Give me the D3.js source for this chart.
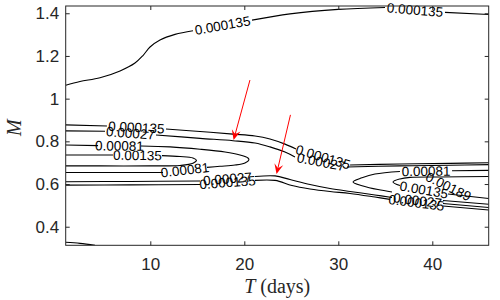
<!DOCTYPE html>
<html lang="en">
<head>
<meta charset="utf-8">
<title>Contour M vs T</title>
<script src="https://d3js.org/d3.v7.min.js"></script>
<style>
    body
    {
        margin: 0;
        background-color: white;
    }
    .tick text
    {
        font-family: "Liberation Sans", Arial, sans-serif;
        font-size: 17px;
        fill: #262626;
    }
    .clabel
    {
        font-family: "Liberation Sans", Arial, sans-serif;
        font-size: 13.5px;
        fill: black;
    }
    .axis_title
    {
        font-family: "Liberation Serif", "Times New Roman", serif;
        font-size: 20px;
        fill: #262626;
    }
</style>
</head>
<body>
<div id="chart_div"></div>
<script>
"use strict";

var t_domain = [1, 46];
var m_domain = [0.313, 1.434];
var t_ticks = [10, 20, 30, 40];
var m_ticks = [0.4, 0.6, 0.8, 1, 1.2, 1.4];
var levels = ["0.000135", "0.00027", "0.00081", "0.00135", "0.00189"];

// contour pieces for each level, points are [T, M]
var level_000135 = [
    [[1.00,1.063],[2.52,1.080],[4.65,1.098],[6.78,1.130],[8.37,1.167],[9.22,1.202],[9.97,1.242],[11.03,1.275],[12.63,1.301],[14.54,1.318]],
    [[20.82,1.368],[24.86,1.397],[29.97,1.418],[34.97,1.427]],
    [[41.35,1.404],[46.00,1.394]],
    [[1.00,0.327],[2.52,0.322],[4.12,0.313]],
    [[1.00,0.877],[5.39,0.872]],
    [[11.67,0.858],[15.29,0.846],[18.80,0.834],[21.14,0.825],[22.73,0.811],[24.33,0.787],[25.50,0.764]],
    [[31.25,0.689],[36.56,0.694],[41.89,0.697],[46.00,0.700]],
    [[1.00,0.595],[7.84,0.596],[15.29,0.598]],
    [[21.14,0.617],[23.27,0.617],[25.07,0.593],[26.99,0.577],[29.12,0.565],[31.25,0.556],[33.90,0.539],[35.49,0.528]],
    [[41.14,0.497],[46.00,0.478]]
];
var level_00027 = [
    [[1.00,0.849],[5.18,0.847]],
    [[10.61,0.830],[15.29,0.814],[18.80,0.803],[21.14,0.792],[22.73,0.774],[24.33,0.750],[25.39,0.727]],
    [[30.93,0.680],[36.56,0.685],[41.89,0.688],[46.00,0.691]],
    [[1.00,0.611],[7.84,0.612],[15.29,0.614]],
    [[21.14,0.635],[23.27,0.638],[24.86,0.621],[26.99,0.598],[29.12,0.579],[31.25,0.565],[33.90,0.549],[35.71,0.537]],
    [[41.14,0.509],[46.00,0.490]]
];
var level_00081 = [
    [[1.00,0.783],[4.44,0.780]],
    [[9.01,0.778],[12.10,0.774],[15.29,0.763],[17.95,0.750],[19.54,0.736],[20.39,0.722],[20.49,0.713],[20.07,0.699],[19.01,0.689],[17.41,0.683],[16.03,0.678]],
    [[11.35,0.654],[6.78,0.654],[1.00,0.654]],
    [[36.56,0.659],[33.90,0.647],[32.52,0.629],[31.57,0.610],[32.63,0.591],[34.22,0.574],[35.71,0.563]],
    [[42.10,0.662],[46.00,0.664]],
    [[41.14,0.523],[46.00,0.505]]
];
var level_00135 = [
    [[1.00,0.736],[6.03,0.736]],
    [[11.24,0.733],[13.16,0.729],[14.54,0.722],[14.91,0.711],[14.54,0.697],[13.16,0.687],[9.97,0.685],[4.65,0.685],[1.00,0.685]],
    [[46.00,0.635],[40.82,0.633],[37.63,0.631],[36.56,0.624],[35.82,0.610],[36.56,0.593]],
    [[41.67,0.553],[46.00,0.532]]
];
var level_00189 = [];

// inline labels: [level, T1, M1, T2, M2] = the gap the label sits in
var contour_labels = [
    ["0.000135", 14.54,1.318, 20.82,1.368],
    ["0.000135", 34.97,1.427, 41.35,1.404],
    ["0.000135", 5.39,0.872, 11.67,0.858],
    ["0.000135", 25.50,0.764, 31.25,0.689],
    ["0.000135", 15.29,0.598, 21.14,0.617],
    ["0.000135", 35.49,0.528, 41.14,0.497],
    ["0.00027", 5.18,0.847, 10.61,0.830],
    ["0.00027", 25.39,0.727, 30.93,0.680],
    ["0.00027", 15.29,0.614, 21.14,0.635],
    ["0.00027", 35.71,0.537, 41.14,0.509],
    ["0.00081", 4.44,0.780, 9.01,0.778],
    ["0.00081", 16.03,0.678, 11.35,0.654],
    ["0.00081", 36.56,0.659, 42.10,0.662],
    ["0.00135", 6.03,0.736, 11.24,0.733],
    ["0.00135", 36.56,0.593, 41.67,0.553],
    ["0.00189", 39.44,0.638, 44.01,0.539]
];

var arrow_from = [[20.60,1.087],[24.91,0.924]];
var arrow_to = [[18.86,0.806],[23.43,0.647]];

var svg_width = 500;
var svg_height = 300;
var margin = {left: 65.7, top: 6, right: 11.3, bottom: 54.7};
var chart_width = svg_width - margin.left - margin.right;
var chart_height = svg_height - margin.top - margin.bottom;

var x = d3.scaleLinear().domain(t_domain).range([0, chart_width]);
var y = d3.scaleLinear().domain(m_domain).range([chart_height, 0]);

var svg = d3.select("#chart_div")
    .append("svg")
    .attr("width", svg_width)
    .attr("height", svg_height);

var g = svg.append("g")
    .attr("transform", "translate(" + margin.left + "," + margin.top + ")");

g.append("clipPath")
    .attr("id", "plot_clip")
    .append("rect")
    .attr("width", chart_width)
    .attr("height", chart_height);

var contour_lines = [
    {level: levels[0], pieces: level_000135},
    {level: levels[1], pieces: level_00027},
    {level: levels[2], pieces: level_00081},
    {level: levels[3], pieces: level_00135},
    {level: levels[4], pieces: level_00189}
];

var line = d3.line()
    .x(function(d) { return x(d[0]); })
    .y(function(d) { return y(d[1]); })
    .curve(d3.curveCatmullRom.alpha(0.5));

var lines_g = g.append("g").attr("clip-path", "url(#plot_clip)");
contour_lines.forEach(function(c)
{
    lines_g.selectAll(null)
        .data(c.pieces)
        .enter()
        .append("path")
        .attr("d", line)
        .attr("fill", "none")
        .attr("stroke", "black")
        .attr("stroke-width", 1.1);
});

g.selectAll(".clabel")
    .data(contour_labels)
    .enter()
    .append("text")
    .attr("class", "clabel")
    .attr("text-anchor", "middle")
    .attr("dy", "0.35em")
    .attr("transform", function(d)
    {
        var x1 = x(d[1]), y1 = y(d[2]), x2 = x(d[3]), y2 = y(d[4]);
        var angle = Math.atan2(y2 - y1, x2 - x1) * 180 / Math.PI;
        if(angle > 90) angle -= 180;
        if(angle < -90) angle += 180;
        return "translate(" + ((x1 + x2) / 2) + "," + ((y1 + y2) / 2) + ") rotate(" + angle + ")";
    })
    .text(function(d) { return d[0]; });

// axes, ticks pointing inwards on all four sides
var x_axis = g.append("g")
    .attr("transform", "translate(0," + chart_height + ")")
    .call(d3.axisBottom(x).tickValues(t_ticks).tickSizeInner(-4).tickSizeOuter(0).tickPadding(13));
var y_axis = g.append("g")
    .call(d3.axisLeft(y).tickValues(m_ticks).tickSizeInner(-4).tickSizeOuter(0).tickPadding(6.5)
        .tickFormat(function(d) { return d3.format("")(d); }));
var x_top = g.append("g")
    .call(d3.axisTop(x).tickValues(t_ticks).tickSizeInner(-4).tickSizeOuter(0).tickFormat(""));
var y_right = g.append("g")
    .attr("transform", "translate(" + chart_width + ",0)")
    .call(d3.axisRight(y).tickValues(m_ticks).tickSizeInner(-4).tickSizeOuter(0).tickFormat(""));

[x_axis, y_axis, x_top, y_right].forEach(function(a)
{
    a.select(".domain").remove();
    a.selectAll(".tick line").attr("stroke", "#262626");
});

g.append("rect")
    .attr("width", chart_width)
    .attr("height", chart_height)
    .attr("fill", "none")
    .attr("stroke", "#262626")
    .attr("stroke-width", 1);

// red arrows
var arrows = g.append("g");
arrow_from.forEach(function(from, i)
{
    var x1 = x(from[0]), y1 = y(from[1]);
    var x2 = x(arrow_to[i][0]), y2 = y(arrow_to[i][1]);
    var a = Math.atan2(y2 - y1, x2 - x1);
    var len = 10, half = 4.5, notch = 6;
    var ux = Math.cos(a), uy = Math.sin(a);
    arrows.append("line")
        .attr("x1", x1).attr("y1", y1)
        .attr("x2", x2 - ux * notch).attr("y2", y2 - uy * notch)
        .attr("stroke", "red")
        .attr("stroke-width", 1);
    var pts = [
        [x2, y2],
        [x2 - ux * len - uy * half, y2 - uy * len + ux * half],
        [x2 - ux * notch, y2 - uy * notch],
        [x2 - ux * len + uy * half, y2 - uy * len - ux * half]
    ];
    arrows.append("polygon")
        .attr("points", pts.map(function(p) { return p.join(","); }).join(" "))
        .attr("fill", "red");
});

// axis titles
svg.append("text")
    .attr("class", "axis_title")
    .attr("transform", "translate(21," + (margin.top + chart_height / 2 + 2) + ") rotate(-90)")
    .attr("text-anchor", "middle")
    .style("font-style", "italic")
    .text("M");

var x_title = svg.append("text")
    .attr("class", "axis_title")
    .attr("x", margin.left + chart_width / 2)
    .attr("y", 293)
    .attr("text-anchor", "middle");
x_title.append("tspan").style("font-style", "italic").text("T");
x_title.append("tspan").text(" (days)");
</script>
</body>
</html>
